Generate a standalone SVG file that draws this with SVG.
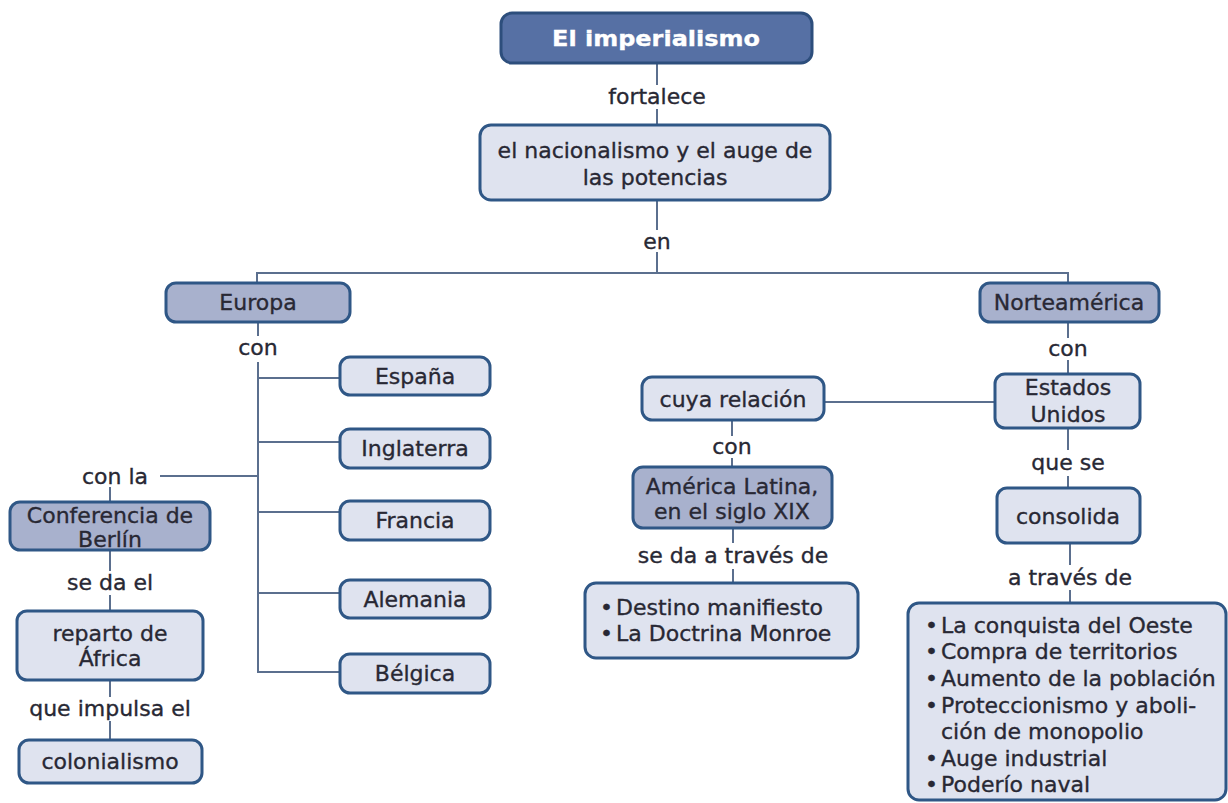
<svg xmlns="http://www.w3.org/2000/svg" width="1228" height="803" viewBox="0 0 1228 803">
<style>
.box{stroke:#2f5786;stroke-width:3}
.lt{fill:#dfe3ef}
.dk{fill:#a8b1cd}
.hd{fill:#5670a4;stroke:#2d4e7c;stroke-width:3}
text{font-family:"DejaVu Sans","Liberation Sans",sans-serif;font-size:22px;fill:#282834;stroke:#282834;stroke-width:0.35}
.c{text-anchor:middle}
.w{fill:#ffffff;stroke:#ffffff;font-weight:bold}
#connectors line{stroke:#5b6f8e;stroke-width:2}
</style>
<rect width="1228" height="803" fill="#ffffff"/>
<g id="connectors">
<line x1="657" y1="63" x2="657" y2="85"/>
<line x1="657" y1="109" x2="657" y2="125"/>
<line x1="657" y1="200" x2="657" y2="230"/>
<line x1="657" y1="252" x2="657" y2="273"/>
<line x1="257" y1="273" x2="1068" y2="273"/>
<line x1="257" y1="272" x2="257" y2="283"/>
<line x1="1068" y1="272" x2="1068" y2="283"/>
<line x1="258" y1="322" x2="258" y2="336"/>
<line x1="258" y1="362" x2="258" y2="673"/>
<line x1="257" y1="378" x2="340" y2="378"/>
<line x1="257" y1="442" x2="340" y2="442"/>
<line x1="257" y1="512" x2="340" y2="512"/>
<line x1="257" y1="593" x2="340" y2="593"/>
<line x1="257" y1="672" x2="340" y2="672"/>
<line x1="160" y1="476" x2="258" y2="476"/>
<line x1="110" y1="487" x2="110" y2="502"/>
<line x1="110" y1="550" x2="110" y2="571"/>
<line x1="110" y1="595" x2="110" y2="611"/>
<line x1="110" y1="680" x2="110" y2="697"/>
<line x1="110" y1="721" x2="110" y2="740"/>
<line x1="1068" y1="322" x2="1068" y2="338"/>
<line x1="1068" y1="360" x2="1068" y2="374"/>
<line x1="824" y1="402" x2="995" y2="402"/>
<line x1="1068" y1="428" x2="1068" y2="450"/>
<line x1="1068" y1="476" x2="1068" y2="488"/>
<line x1="1070" y1="543" x2="1070" y2="565"/>
<line x1="1070" y1="590" x2="1070" y2="603"/>
<line x1="732" y1="420" x2="732" y2="436"/>
<line x1="732" y1="458" x2="732" y2="467"/>
<line x1="733" y1="528" x2="733" y2="543"/>
<line x1="733" y1="569" x2="733" y2="583"/>
</g>
<g id="labels">
<text class="c" x="657" y="104">fortalece</text>
<text class="c" x="657" y="249">en</text>
<text class="c" x="258" y="355">con</text>
<text class="c" x="115" y="484">con la</text>
<text class="c" x="110" y="590">se da el</text>
<text class="c" x="110" y="716">que impulsa el</text>
<text class="c" x="1068" y="356">con</text>
<text class="c" x="1068" y="470">que se</text>
<text class="c" x="1070" y="585">a través de</text>
<text class="c" x="732" y="454">con</text>
<text class="c" x="733" y="563">se da a través de</text>
</g>
<g id="n-imperialismo"><rect class="hd" x="501" y="13" width="311" height="50" rx="11"/><text class="c w" x="656" y="46" textLength="208" lengthAdjust="spacingAndGlyphs">El imperialismo</text></g>
<g id="n-nacionalismo"><rect class="box lt" x="480" y="125" width="350" height="75" rx="11"/><text class="c" x="655" y="158">el nacionalismo y el auge de</text><text class="c" x="655" y="185">las potencias</text></g>
<g id="n-europa"><rect class="box dk" x="166" y="283" width="184" height="39" rx="10"/><text class="c" x="258" y="310">Europa</text></g>
<g id="n-norteamerica"><rect class="box dk" x="980" y="283" width="179" height="39" rx="10"/><text class="c" x="1069" y="310">Norteamérica</text></g>
<g id="n-espana"><rect class="box lt" x="340" y="357" width="150" height="38" rx="10"/><text class="c" x="415" y="384">España</text></g>
<g id="n-inglaterra"><rect class="box lt" x="340" y="429" width="150" height="39" rx="10"/><text class="c" x="415" y="456">Inglaterra</text></g>
<g id="n-francia"><rect class="box lt" x="340" y="501" width="150" height="39" rx="10"/><text class="c" x="415" y="528">Francia</text></g>
<g id="n-alemania"><rect class="box lt" x="340" y="580" width="150" height="38" rx="10"/><text class="c" x="415" y="607">Alemania</text></g>
<g id="n-belgica"><rect class="box lt" x="340" y="654" width="150" height="39" rx="10"/><text class="c" x="415" y="681">Bélgica</text></g>
<g id="n-conferencia"><rect class="box dk" x="10" y="502" width="200" height="48" rx="10"/><text class="c" x="110" y="523">Conferencia de</text><text class="c" x="110" y="547">Berlín</text></g>
<g id="n-reparto"><rect class="box lt" x="17" y="611" width="186" height="69" rx="10"/><text class="c" x="110" y="641">reparto de</text><text class="c" x="110" y="666">África</text></g>
<g id="n-colonialismo"><rect class="box lt" x="19" y="740" width="183" height="43" rx="10"/><text class="c" x="110" y="769">colonialismo</text></g>
<g id="n-cuya"><rect class="box lt" x="642" y="377" width="182" height="43" rx="10"/><text class="c" x="733" y="407">cuya relación</text></g>
<g id="n-estados"><rect class="box lt" x="995" y="374" width="145" height="54" rx="10"/><text class="c" x="1068" y="395">Estados</text><text class="c" x="1068" y="422">Unidos</text></g>
<g id="n-america"><rect class="box dk" x="633" y="467" width="199" height="61" rx="10"/><text class="c" x="732" y="494">América Latina,</text><text class="c" x="732" y="519">en el siglo XIX</text></g>
<g id="n-consolida"><rect class="box lt" x="997" y="488" width="143" height="55" rx="10"/><text class="c" x="1068" y="524">consolida</text></g>
<g id="n-destino"><rect class="box lt" x="585" y="583" width="273" height="75" rx="11"/><text x="600" y="615"><tspan>•</tspan><tspan x="616">Destino manifiesto</tspan></text><text x="600" y="641"><tspan>•</tspan><tspan x="616">La Doctrina Monroe</tspan></text></g>
<g id="n-traves"><rect class="box lt" x="908" y="603" width="318" height="197" rx="11"/>
<text x="925" y="633"><tspan>•</tspan><tspan x="941">La conquista del Oeste</tspan></text>
<text x="925" y="659"><tspan>•</tspan><tspan x="941">Compra de territorios</tspan></text>
<text x="925" y="686"><tspan>•</tspan><tspan x="941">Aumento de la población</tspan></text>
<text x="925" y="713"><tspan>•</tspan><tspan x="941">Proteccionismo y aboli-</tspan></text>
<text x="941" y="739">ción de monopolio</text>
<text x="925" y="766"><tspan>•</tspan><tspan x="941">Auge industrial</tspan></text>
<text x="925" y="792"><tspan>•</tspan><tspan x="941">Poderío naval</tspan></text>
</g>
</svg>
